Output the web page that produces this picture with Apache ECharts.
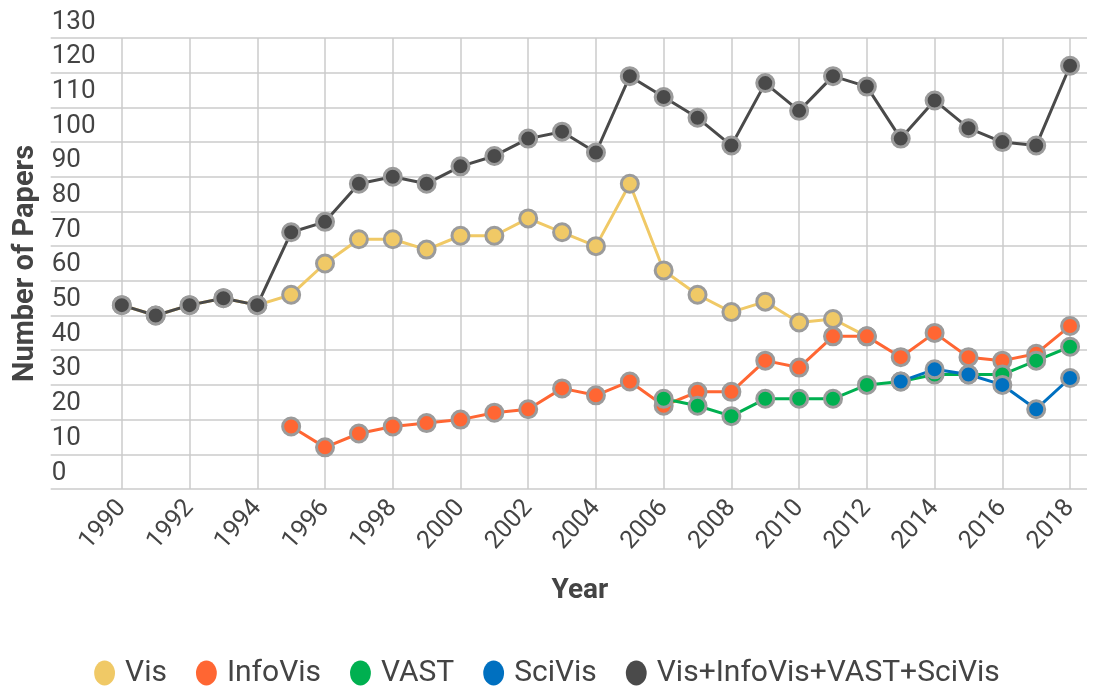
<!DOCTYPE html>
<html>
<head>
<meta charset="utf-8">
<title>Papers per year</title>
<script src="https://cdn.jsdelivr.net/npm/echarts@6/dist/echarts.min.js"></script>
<style>
  html, body { margin: 0; padding: 0; background: #fff; }
  #chart { width: 1094px; height: 686px; }
</style>
</head>
<body>
<div id="chart"></div>
<script>
// years on the x axis
const years = [];
for (let y = 1990; y <= 2018; y++) years.push(y);
const tickYears = [1990, 1992, 1994, 1996, 1998, 2000, 2002, 2004, 2006, 2008, 2010, 2012, 2014, 2016, 2018];

// values, one per year starting 1990 (null = no data)
const visData = [53, 50, 53, 55, 53, 56, 65, 72, 72, 69, 73, 73, 78, 74, 70, 88, 63, 56, 51, 54, 48, 49, 44,
  null, null, null, null, null, null];
const infoVisData = [null, null, null, null, null, 18, 12, 16, 18, 19, 20, 22, 23, 29, 27, 31, 24, 28, 28, 37, 35,
  44, 44, 38, 45, 38, 37, 39, 47];
const vastData = [null, null, null, null, null, null, null, null, null, null, null, null, null, null, null, null,
  26, 24, 21, 26, 26, 26, 30, 31, 33, 33, 33, 37, 41];
const sciVisData = [null, null, null, null, null, null, null, null, null, null, null, null, null, null, null, null,
  null, null, null, null, null, null, null, 31, 34.5, 33, 30, 23, 32];
const totalData = [53, 50, 53, 55, 53, 74, 77, 88, 90, 88, 93, 96, 101, 103, 97, 119, 113, 107, 99, 117, 109, 119,
  116, 101, 112, 104, 100, 99, 122];

const seriesNames = ['Vis', 'InfoVis', 'VAST', 'SciVis', 'Vis+InfoVis+VAST+SciVis'];
const seriesColors = ['#f0c966', '#ff6633', '#00b050', '#0070c0', '#4a4a4a'];
const seriesData = [visData, infoVisData, vastData, sciVisData, totalData];

const yTicks = { min: 0, max: 130, step: 10 };

const chart = echarts.init(document.getElementById('chart'));
const font = 'Roboto, "Noto Sans", sans-serif';

chart.setOption({
  animation: false,
  textStyle: { fontFamily: font, color: '#444' },
  grid: { left: 50.7, right: 7, top: 38, bottom: 197 },
  legend: {
    left: 'center',
    top: 653,
    icon: 'path://M10,0A10,12,0,1,1,10,24A10,12,0,1,1,10,0Z',
    itemWidth: 21,
    itemHeight: 25,
    itemGap: 29,
    itemStyle: { borderWidth: 0 },
    textStyle: { fontSize: 30, color: '#444', fontFamily: font, padding: [0, 0, 0, 5] }
  },
  xAxis: {
    type: 'value',
    min: 1987.9,
    max: 2018.5,
    name: 'Year',
    nameLocation: 'middle',
    nameGap: 88,
    nameTextStyle: { fontSize: 28, fontWeight: 'bold', color: '#444', padding: [0, 0, 0, 22] },
    axisLine: { show: false },
    axisTick: { show: false, customValues: tickYears },
    axisLabel: {
      customValues: tickYears,
      rotate: 48,
      margin: 15,
      fontSize: 25,
      color: '#444',
      formatter: v => String(v)
    },
    splitLine: { show: true, lineStyle: { color: '#cbcbcb', width: 1.5 } }
  },
  yAxis: {
    type: 'value',
    min: yTicks.min,
    max: yTicks.max,
    interval: yTicks.step,
    name: 'Number of Papers',
    nameLocation: 'middle',
    nameGap: 10,
    nameTextStyle: { fontSize: 29, fontWeight: 'bold', color: '#444' },
    axisLine: { show: false },
    axisTick: { show: false },
    axisLabel: {
      inside: true,
      margin: 1,
      align: 'left',
      verticalAlign: 'bottom',
      padding: [0, 0, 3, 0],
      fontSize: 26,
      color: '#444'
    },
    splitLine: { show: true, lineStyle: { color: '#cbcbcb', width: 1.5 } }
  },
  series: seriesNames.map((name, i) => ({
    type: 'line',
    name,
    data: years.map((yr, k) => [yr, seriesData[i][k]]),
    color: seriesColors[i],
    symbol: 'circle',
    symbolSize: 17,
    connectNulls: false,
    lineStyle: { width: 3, color: seriesColors[i] },
    itemStyle: { color: seriesColors[i], borderColor: '#9b9b9b', borderWidth: 3 }
  }))
});
</script>
</body>
</html>
